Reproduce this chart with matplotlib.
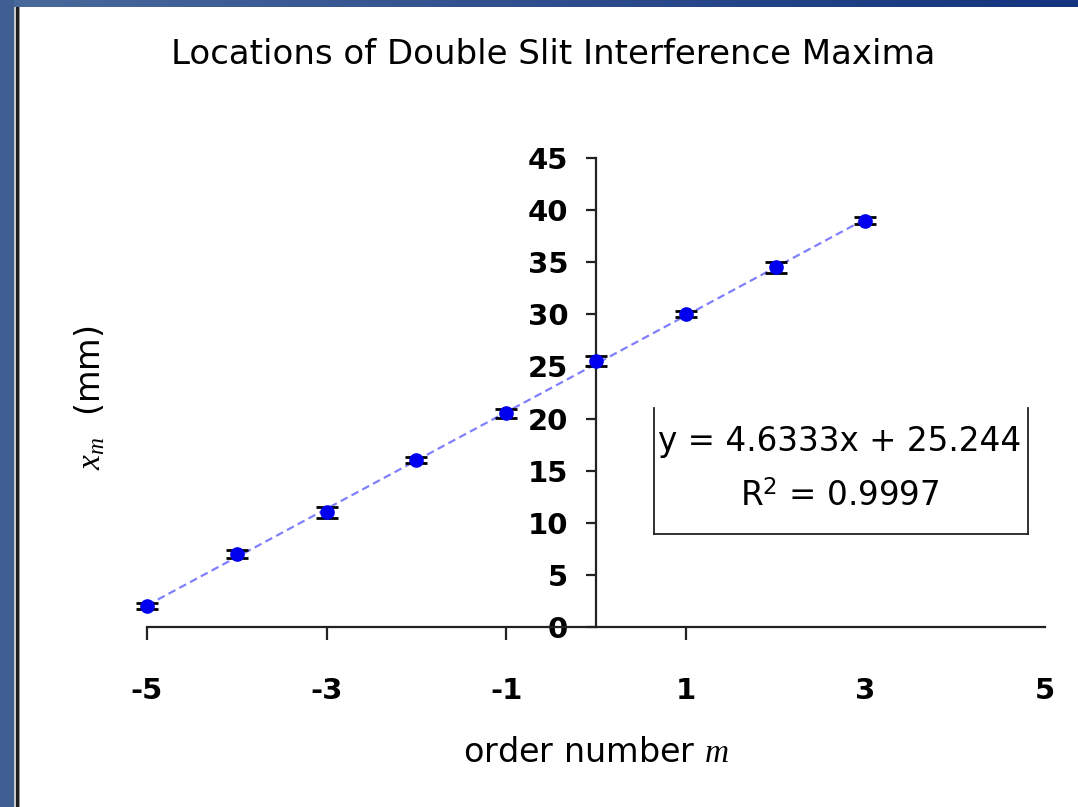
import numpy as np
import matplotlib
matplotlib.use("Agg")
import matplotlib.pyplot as plt
from matplotlib.lines import Line2D
from matplotlib.patches import Rectangle
from matplotlib.colors import LinearSegmentedColormap

plt.rcParams['font.family'] = ['DejaVu Sans']
plt.rcParams['mathtext.fontset'] = 'custom'
plt.rcParams['mathtext.it'] = 'Liberation Serif:italic'
plt.rcParams['mathtext.rm'] = 'DejaVu Sans'

# Order number and measured fringe positions (mm)
order_m = [-5, -4, -3, -2, -1, 0, 1, 2, 3]
position_mm = [2.0, 7.0, 11.0, 16.0, 20.5, 25.5, 30.0, 34.5, 39.0]
position_err = [0.3, 0.4, 0.5, 0.3, 0.4, 0.5, 0.3, 0.5, 0.3]

# Linear trendline
slope = 4.6333
intercept = 25.244
r_squared = 0.9997

x_ticks = [-5, -3, -1, 1, 3, 5]
x_tick_marks = [-5, -3, -1, 1]
y_ticks = [0, 5, 10, 15, 20, 25, 30, 35, 40, 45]

W, H = 1078, 807
fig = plt.figure(figsize=(W / 100, H / 100), dpi=100)
fig.patch.set_facecolor('white')

# Slide frame: blue strip along the top and left edges
frame = fig.add_axes([0, 0, 1, 1], zorder=-10)
frame.set_xlim(0, W)
frame.set_ylim(H, 0)
frame.axis('off')
grad = np.linspace(0, 1, 256)[None, :]
cmap = LinearSegmentedColormap.from_list('slide', ['#4a699c', '#13347f'])
frame.imshow(grad, extent=(0, W, 7, 0), aspect='auto', cmap=cmap)
frame.add_patch(Rectangle((0, 0), 14, H, color='#3f5f92', lw=0))
frame.add_patch(Rectangle((14, 7), 2, H, color='#c8c8c8', lw=0))
frame.add_patch(Rectangle((16, 7), 3, H, color='#1e1e1e', lw=0))
frame.add_patch(Rectangle((19, 7), 1, H, color='#9a9a9a', lw=0))

ax = fig.add_axes([147 / W, 1 - 627 / H, (1045 - 147) / W, (627 - 158) / H])
ax.set_xlim(-5, 5)
ax.set_ylim(0, 45)
ax.set_facecolor('none')

for s in ('top', 'right'):
    ax.spines[s].set_visible(False)
ax.spines['left'].set_position(('data', 0))
for s in ('left', 'bottom'):
    ax.spines[s].set_linewidth(1.6)
    ax.spines[s].set_color('#222222')

ax.xaxis.remove_overlapping_locs = False
ax.set_xticks(x_ticks)
ax.set_xticklabels([str(t) for t in x_ticks], fontsize=21, fontweight='bold')
ax.tick_params(axis='x', which='major', length=0, pad=36)
ax.set_xticks(x_tick_marks, minor=True)
ax.tick_params(axis='x', which='minor', length=9, width=1.6, color='#222222',
               direction='out')

ax.set_yticks(y_ticks)
ax.set_yticklabels([str(t) for t in y_ticks], fontsize=21, fontweight='bold')
ax.tick_params(axis='y', length=7, width=1.6, color='#222222', direction='out', pad=13)

# Trendline
xt = np.array([order_m[0], order_m[-1]], dtype=float)
ax.plot(xt, slope * xt + intercept, linestyle=(0, (3.5, 2)), color='#8080ff', lw=1.6,
        zorder=2)

# Data with error bars
ax.errorbar(order_m, position_mm, yerr=position_err, fmt='o', color='#0000ee',
            markersize=9.5, ecolor='black', elinewidth=1.5, capsize=8, capthick=2,
            zorder=3, clip_on=False)

fig.text(553 / W, 1 - 55 / H, 'Locations of Double Slit Interference Maxima',
         ha='center', va='center', fontsize=24.5)
fig.text(596 / W, 1 - 752 / H, r'order number $m$', ha='center', va='center',
         fontsize=24)
fig.text(90 / W, 1 - 398 / H, r'$x_m$  (mm)', ha='center', va='center', fontsize=24,
         rotation=90)

# Trendline equation box
fig.text(840 / W, 1 - 442 / H, f'y = {slope:.4f}x + {intercept:.3f}', ha='center',
         va='center', fontsize=23.5)
fig.text(840 / W, 1 - 496 / H, f'R$^2$ = {r_squared:.4f}', ha='center', va='center',
         fontsize=23.5)
bx0, bx1, by0, by1 = 654, 1028, 408, 534
for xs, ys in (([bx0, bx0], [by0, by1]), ([bx1, bx1], [by0, by1]),
               ([bx0, bx1], [by1, by1])):
    fig.add_artist(Line2D([x / W for x in xs], [1 - y / H for y in ys],
                          color='#222222', lw=1.3))

fig.savefig('out.png', dpi=100)
